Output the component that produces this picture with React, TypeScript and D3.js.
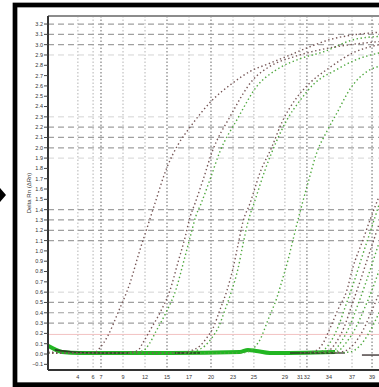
import React from "react";
import * as d3 from "d3";

// amplification curves, [unit, deltaRn]
const curveA = [[0.09,0.02],[1.32,0.01],[2.23,0.02],[2.45,0.06],[2.82,0.18],[3.27,0.40],[3.82,0.69],[4.27,1.01],[4.59,1.22],[4.95,1.46],[5.5,1.81],[6.0,2.03],[6.55,2.2],[7.55,2.46],[8.5,2.63],[9.27,2.74],[10.18,2.82],[11.09,2.9],[12.0,2.98],[12.91,3.05],[13.82,3.09],[15.14,3.12]];
const curveB = [[0.09,0.01],[3.36,0.01],[4.14,0.03],[4.41,0.11],[4.73,0.23],[5.18,0.40],[5.64,0.62],[6.0,0.89],[6.32,1.13],[6.55,1.33],[6.77,1.46],[7.14,1.69],[7.55,1.96],[8.36,2.30],[9.41,2.66],[10.18,2.79],[11.23,2.88],[12.45,2.95],[13.82,3.0],[15.14,3.03]];
const curveBg = [[3.6,0.01],[4.4,0.03],[4.7,0.1],[5.0,0.22],[5.45,0.4],[5.9,0.62],[6.25,0.89],[6.55,1.13],[6.8,1.33],[7.05,1.46],[7.45,1.69],[7.9,1.96],[8.7,2.28],[9.6,2.6],[10.5,2.76],[11.5,2.86],[12.6,2.93],[14.0,3.05],[15.14,3.08]];
const curveC = [[0.09,0.01],[6.09,0.01],[6.55,0.03],[7.0,0.08],[7.32,0.16],[7.59,0.25],[7.91,0.43],[8.23,0.62],[8.5,0.83],[8.73,1.06],[8.95,1.28],[9.27,1.46],[9.73,1.76],[10.27,2.01],[10.73,2.25],[11.41,2.49],[12.0,2.63],[12.91,2.78],[13.95,2.92],[15.14,3.0]];
const curveCg = [[6.32,0.01],[6.77,0.03],[7.23,0.08],[7.55,0.16],[7.82,0.25],[8.14,0.43],[8.45,0.62],[8.73,0.83],[8.95,1.06],[9.18,1.28],[9.5,1.49],[9.95,1.78],[10.45,2.05],[10.95,2.27],[11.55,2.46],[12.23,2.63],[13.14,2.75],[14.05,2.85],[15.14,2.92]];
const curveD = [[0.09,0.01],[8.82,0.01],[9.27,0.03],[9.5,0.07],[9.73,0.14],[10.09,0.33],[10.5,0.55],[10.77,0.74],[11.0,0.91],[11.23,1.11],[11.55,1.38],[11.91,1.66],[12.32,1.96],[12.77,2.16],[13.23,2.34],[13.82,2.57],[14.59,2.74],[15.14,2.79]];
const curveE1 = [[11.55,0.01],[12.23,0.03],[12.55,0.09],[12.91,0.25],[13.27,0.43],[13.68,0.62],[13.95,0.84],[14.36,1.08],[14.73,1.3],[15.14,1.53]];
const curveE2 = [[12.0,0.01],[12.55,0.03],[12.91,0.11],[13.27,0.26],[13.64,0.48],[14.0,0.7],[14.36,0.94],[14.73,1.18],[15.14,1.45]];
const curveE3 = [[12.23,0.01],[12.82,0.03],[13.18,0.11],[13.55,0.26],[13.91,0.48],[14.27,0.7],[14.64,0.94],[15.14,1.26]];
const curveE4 = [[12.45,0.01],[13.05,0.03],[13.45,0.13],[13.82,0.28],[14.18,0.48],[14.55,0.7],[14.91,0.93],[15.14,1.08]];
const curveE5 = [[12.68,0.01],[13.27,0.03],[13.68,0.12],[14.09,0.26],[14.45,0.43],[14.82,0.62],[15.14,0.81]];
const curveE6 = [[12.91,0.01],[13.59,0.03],[14.05,0.11],[14.41,0.23],[14.73,0.38],[15.14,0.59]];
const curveE7 = [[13.14,0.01],[13.82,0.02],[14.27,0.08],[14.64,0.19],[15.14,0.4]];

const brownCurves = [curveA, curveB, curveC, curveE1, curveE3, curveE6];
const greenCurves = [curveBg, curveCg, curveD, curveE2, curveE4, curveE5, curveE7];

// baseline band and dark overlaps
const baseGreen = [[0.09,0.08],[0.36,0.05],[0.73,0.02],[1.55,0.01],[3.36,0.01],[5.64,0.01],[8.82,0.02],[9.18,0.04],[9.55,0.03],[10.18,0.01],[13.14,0.02]];
const baseDark = [
  [[0.4,0.04],[1.2,0.02],[2.45,0.01],[3.82,0.01]],
  [[5.86,0.01],[7.0,0.01]],
  [[11.09,0.01],[13.59,0.01]],
  [[14.36,-0.01],[15.14,-0.01]],
];

const threshold = 0.19;
const hGrid = [3.2, 3.1, 3.0, 2.2, 2.1, 2.0, 1.4, 1.3, 1.2, 1.1, 0.5, 0.4, 0.3];
const hGridFaint = [2.9, 2.3, 1.9, 0.6];
const vGridDark = [2.5, 5.5, 7.5, 11.86, 14.82];
const vGridLight = [1.45, 2.14, 3.5, 4.5, 6.5, 8.5, 9.45, 10.86, 11.55, 12.86, 13.91];
const yTicks = d3.range(-1, 33).map((i) => i / 10);
const xTickLabels = ["4", "6", "7", "9", "12", "15", "17", "20", "23", "25", "29", "31", "32", "34", "37", "39"];
const xTickVals = [1.45, 2.14, 2.5, 3.5, 4.5, 5.5, 6.5, 7.5, 8.5, 9.45, 10.86, 11.55, 11.86, 12.86, 13.91, 14.82];

const W = 379;
const H = 387;

export default function App() {
  const x = d3.scaleLinear().domain([0, 15]).range([46, 376]);
  const y = d3.scaleLinear().domain([-0.155, 3.278]).range([370, 16]);
  const line = d3
    .line<number[]>()
    .x((d) => x(d[0]))
    .y((d) => y(d[1]))
    .curve(d3.curveMonotoneX);
  const left = 48;
  const top = 16;
  const bottom = 370;

  return (
    <svg
      width={W}
      height={H}
      style={{ position: "absolute", left: 0, top: 0, background: "#fff" }}
      fontFamily="'Liberation Sans', Arial, sans-serif"
    >
      <defs>
        <clipPath id="plot">
          <rect x={left} y={top} width={W - left} height={bottom - top} />
        </clipPath>
      </defs>
      <rect x={0} y={0} width={W} height={H} fill="#fff" />
      <path d="M0,188 L6,195 L0,202 Z" fill="#000" />

      <g clipPath="url(#plot)">
        {vGridLight.map((v) => (
          <line key={"vl" + v} x1={x(v)} x2={x(v)} y1={top} y2={bottom} stroke="#b4b4b4" strokeWidth={1} strokeDasharray="1.5 2" />
        ))}
        {vGridDark.map((v) => (
          <line key={"vd" + v} x1={x(v)} x2={x(v)} y1={top} y2={bottom} stroke="#8a8a8a" strokeWidth={1.3} strokeDasharray="1.5 2" />
        ))}
        {hGridFaint.map((v) => (
          <line key={"hf" + v} x1={left} x2={W} y1={y(v)} y2={y(v)} stroke="#d4d4d4" strokeWidth={1} strokeDasharray="6 4" />
        ))}
        {hGrid.map((v) => (
          <line key={"h" + v} x1={left} x2={W} y1={y(v)} y2={y(v)} stroke="#a0a0a0" strokeWidth={1.2} strokeDasharray="6 4" />
        ))}
        <line x1={left} x2={W} y1={y(threshold)} y2={y(threshold)} stroke="#f2c2c2" strokeWidth={1} />

        <path d={line(baseGreen) || ""} fill="none" stroke="#22b622" strokeWidth={4} />
        {baseDark.map((s, i) => (
          <path key={"bd" + i} d={line(s) || ""} fill="none" stroke="#2e2424" strokeWidth={1.6} opacity={0.8} />
        ))}

        {greenCurves.map((c, i) => (
          <path key={"g" + i} d={line(c) || ""} fill="none" stroke="#4fa83e" strokeWidth={1.4} strokeDasharray="1.4 2.6" />
        ))}
        {brownCurves.map((c, i) => (
          <path key={"b" + i} d={line(c) || ""} fill="none" stroke="#765656" strokeWidth={1.4} strokeDasharray="1.4 2.6" />
        ))}
      </g>

      <line x1={left} x2={W} y1={top} y2={top} stroke="#8c8c8c" strokeWidth={2} />
      <line x1={left} x2={left} y1={top} y2={bottom} stroke="#333" strokeWidth={2} />
      <line x1={left} x2={W} y1={bottom} y2={bottom} stroke="#333" strokeWidth={2} />

      {yTicks.map((t) => (
        <g key={"yt" + t} transform={`translate(${left},${y(t)})`}>
          <line x1={-4} x2={0} stroke="#444" strokeWidth={1} />
          <text x={-5} dy="0.35em" textAnchor="end" fontSize={5.5} fill="#333">
            {d3.format(".1f")(t)}
          </text>
        </g>
      ))}
      {xTickVals.map((v, i) => (
        <text key={"xt" + v} x={x(v)} y={379} textAnchor="middle" fontSize={5.5} fill="#333">
          {xTickLabels[i]}
        </text>
      ))}
      <text transform="translate(31,193) rotate(-90)" textAnchor="middle" fontSize={6} fill="#333">
        Delta Rn (ΔRn)
      </text>

      <rect x={15} y={5} width={W + 10} height={379.7} fill="none" stroke="#000" strokeWidth={4.7} />
    </svg>
  );
}
